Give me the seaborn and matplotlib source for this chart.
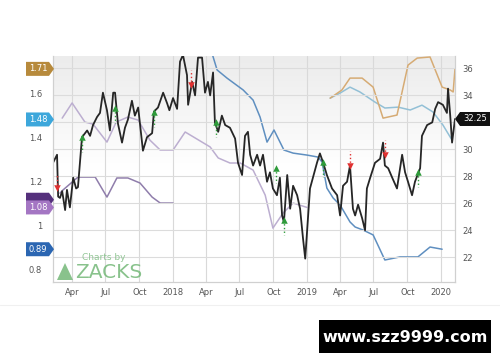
import numpy as np
import pandas as pd
import matplotlib
matplotlib.use("Agg")
import matplotlib.pyplot as plt
import matplotlib.dates as mdates
import matplotlib.transforms as mtransforms
from matplotlib.patches import Polygon, Rectangle
import seaborn as sns

# ---- price (right axis) ----
price_dates = [
    "2017-02-08", "2017-02-19", "2017-02-22", "2017-02-27", "2017-03-05", "2017-03-13", "2017-03-18",
    "2017-03-26", "2017-04-04", "2017-04-12", "2017-04-17", "2017-04-28", "2017-05-12", "2017-05-20",
    "2017-05-28", "2017-06-08", "2017-06-16", "2017-06-24", "2017-07-05", "2017-07-13", "2017-07-22",
    "2017-07-27", "2017-08-04", "2017-08-15", "2017-08-23", "2017-08-31", "2017-09-11", "2017-09-19",
    "2017-09-28", "2017-10-11", "2017-10-22", "2017-11-05", "2017-11-10", "2017-11-21", "2017-12-05",
    "2017-12-16", "2017-12-22", "2018-01-01", "2018-01-12", "2018-01-20", "2018-01-28", "2018-02-08",
    "2018-02-11", "2018-02-22", "2018-03-02", "2018-03-10", "2018-03-21", "2018-03-29", "2018-04-06",
    "2018-04-12", "2018-04-20", "2018-04-25", "2018-05-04", "2018-05-14", "2018-05-23", "2018-06-05",
    "2018-06-19", "2018-06-27", "2018-07-08", "2018-07-16", "2018-07-24", "2018-07-30", "2018-08-07",
    "2018-08-18", "2018-08-26", "2018-09-03", "2018-09-14", "2018-09-22", "2018-09-30", "2018-10-11",
    "2018-10-19", "2018-10-25", "2018-10-30", "2018-11-08", "2018-11-16", "2018-11-24", "2018-12-05",
    "2018-12-13", "2018-12-21", "2018-12-27", "2019-01-04", "2019-01-09", "2019-01-17", "2019-01-28",
    "2019-02-05", "2019-02-14", "2019-02-24", "2019-03-10", "2019-03-24", "2019-04-01", "2019-04-09",
    "2019-04-20", "2019-04-28", "2019-05-06", "2019-05-12", "2019-05-20", "2019-05-31", "2019-06-08",
    "2019-06-13", "2019-06-22", "2019-07-05", "2019-07-19", "2019-07-27", "2019-08-01", "2019-08-10",
    "2019-08-21", "2019-09-03", "2019-09-17", "2019-09-25", "2019-10-03", "2019-10-14", "2019-10-22",
    "2019-11-05", "2019-11-10", "2019-11-24", "2019-12-08", "2019-12-16", "2019-12-24", "2020-01-06",
    "2020-01-17", "2020-01-20", "2020-01-26", "2020-01-31", "2020-02-08",
]
price_values = [
    29.0, 29.6, 26.5, 26.4, 26.9, 25.5, 27.0,
    25.7, 27.9, 27.1, 27.2, 30.9, 31.4, 31.0,
    31.8, 32.4, 32.7, 34.2, 32.9, 31.4, 34.2,
    34.2, 31.9, 30.5, 31.6, 32.2, 33.6, 32.5,
    33.1, 29.9, 30.9, 31.2, 32.8, 33.1, 34.2,
    33.4, 32.9, 33.8, 33.0, 36.5, 37.0, 35.5,
    33.3, 35.0, 34.0, 36.8, 36.8, 34.2, 35.0,
    34.0, 35.7, 32.0, 31.3, 32.5, 31.8, 31.6,
    30.8, 29.0, 28.1, 31.0, 31.3, 29.6, 28.8,
    29.6, 28.8, 29.6, 27.6, 28.3, 27.1, 26.6,
    27.9, 25.1, 24.6, 28.1, 25.6, 27.3, 26.6,
    25.6, 23.4, 21.9, 25.1, 27.1, 27.9, 29.0,
    29.7, 29.0, 28.1, 27.1, 26.6, 25.1, 27.3,
    27.6, 28.8, 25.6, 25.1, 25.9, 24.9, 24.0,
    27.1, 27.9, 29.0, 29.3, 30.5, 28.8, 28.6,
    27.9, 27.1, 29.6, 28.3, 27.6, 26.6, 27.6,
    28.6, 31.0, 31.8, 32.0, 33.0, 33.5, 33.3,
    32.7, 34.5, 32.5, 30.5, 32.25,
]

# ---- consensus estimate lines (left axis) ----
cur_dates = ["2017-03-05", "2017-04-01", "2017-05-06", "2017-05-28", "2017-07-05", "2017-07-30",
             "2017-08-31", "2017-09-28", "2017-10-30", "2017-11-27", "2018-01-01", "2018-02-03",
             "2018-03-21", "2018-04-12", "2018-05-04", "2018-06-05", "2018-07-03", "2018-08-07",
             "2018-09-09", "2018-09-30", "2018-10-28", "2018-11-24", "2019-01-01"]
cur_values = [1.486, 1.555, 1.468, 1.459, 1.377, 1.468, 1.491, 1.477, 1.386, 1.341, 1.341, 1.423,
              1.377, 1.355, 1.305, 1.282, 1.282, 1.25, 1.136, 0.986, 1.055, 1.10, 1.08]

nxt_dates = ["2017-02-27", "2017-03-07", "2017-04-17", "2017-06-03", "2017-07-05", "2017-08-01",
             "2017-08-31", "2017-10-03", "2017-11-05", "2017-11-27", "2018-01-01"]
nxt_values = [1.145, 1.159, 1.218, 1.218, 1.127, 1.214, 1.214, 1.191, 1.127, 1.10, 1.10]

blue_dates = ["2018-04-10", "2018-05-01", "2018-05-28", "2018-07-11", "2018-08-07", "2018-08-26",
              "2018-09-14", "2018-10-03", "2018-10-30", "2018-11-24", "2019-01-01", "2019-01-31",
              "2019-02-11", "2019-02-24", "2019-03-13", "2019-04-01", "2019-04-28", "2019-05-12",
              "2019-06-03", "2019-06-30", "2019-08-01", "2019-09-11", "2019-10-30", "2019-12-02",
              "2020-01-04"]
blue_values = [1.82, 1.705, 1.668, 1.614, 1.568, 1.491, 1.377, 1.432, 1.341, 1.327, 1.318, 1.309,
               1.286, 1.168, 1.123, 1.091, 1.014, 0.991, 0.977, 0.955, 0.841, 0.855, 0.855, 0.90,
               0.89]

lblue_dates = ["2019-03-05", "2019-04-01", "2019-04-28", "2019-05-25", "2019-07-05", "2019-08-01",
               "2019-09-06", "2019-10-09", "2019-11-10", "2019-12-10", "2020-01-06", "2020-01-31"]
lblue_values = [1.577, 1.60, 1.627, 1.605, 1.559, 1.532, 1.536, 1.523, 1.545, 1.514, 1.455, 1.386]

gold_dates = ["2019-03-05", "2019-04-06", "2019-04-28", "2019-05-31", "2019-06-30", "2019-07-27",
              "2019-09-03", "2019-10-03", "2019-10-28", "2019-12-02", "2020-01-04", "2020-01-26",
              "2020-02-03", "2020-02-08"]
gold_values = [1.577, 1.614, 1.668, 1.668, 1.627, 1.486, 1.50, 1.727, 1.759, 1.764, 1.627, 1.614,
               1.605, 1.71]

# ---- earnings surprise markers (on price axis) ----
beat_dates = ["2017-04-28", "2017-07-27", "2017-11-10", "2018-04-28", "2018-10-08", "2018-10-30",
              "2019-02-14", "2019-10-30"]
beat_prices = [30.9, 33.05, 32.75, 32.0, 28.6, 24.75, 29.05, 28.3]
miss_dates = ["2017-02-19", "2018-02-18", "2019-04-28", "2019-08-01"]
miss_prices = [27.1, 34.75, 28.8, 29.6]

# ---- tags ----
tag_values = [1.71, 1.48, 1.115, 1.08, 0.89]
tag_labels = ["1.71", "1.48", "", "1.08", "0.89"]
tag_colors = ["#b78a3c", "#3da7db", "#55307c", "#a476c3", "#2b66b2"]
last_price = 32.25

left_ticks = [0.8, 1.0, 1.2, 1.4, 1.6]
left_labels = ["0.8", "1", "1.2", "1.4", "1.6"]
right_ticks = [22, 24, 26, 28, 30, 32, 34, 36]
right_labels = ["22", "24", "26", "28", "30", "", "34", "36"]

sns.set_style("white")
plt.rcParams["font.family"] = ["DejaVu Sans"]

fig = plt.figure(figsize=(5, 3.62), dpi=100)
ax = fig.add_axes([0.106, 0.221, 0.804, 0.624])
ax2 = ax.twinx()

# gradient background
grad = np.linspace(1, 0, 100).reshape(-1, 1)
ax.imshow(grad, extent=[0, 1, 0, 1], transform=ax.transAxes, aspect="auto",
          cmap=matplotlib.colors.LinearSegmentedColormap.from_list("g", ["#ffffff", "#ffffff", "#ececec"]),
          zorder=-5)

def to_df(d, v):
    return pd.DataFrame({"date": pd.to_datetime(d), "v": v})

sns.lineplot(data=to_df(cur_dates, cur_values), x="date", y="v", ax=ax, color="#bcaed0", lw=1.1)
sns.lineplot(data=to_df(nxt_dates, nxt_values), x="date", y="v", ax=ax, color="#8f7dab", lw=1.1)
sns.lineplot(data=to_df(blue_dates, blue_values), x="date", y="v", ax=ax, color="#5f8fc0", lw=1.1)
sns.lineplot(data=to_df(lblue_dates, lblue_values), x="date", y="v", ax=ax, color="#93c0d6", lw=1.1)
sns.lineplot(data=to_df(gold_dates, gold_values), x="date", y="v", ax=ax, color="#d6ab74", lw=1.1)

# price
sns.lineplot(data=to_df(price_dates, price_values), x="date", y="v", ax=ax2, color="#262626", lw=1.3)

# surprise markers
bd = pd.to_datetime(beat_dates)
md = pd.to_datetime(miss_dates)
ax2.vlines(bd, np.array(beat_prices), np.array(beat_prices) - 1.1, colors="#2e9b3a", lw=1, linestyles=":")
ax2.scatter(bd, beat_prices, marker="^", s=22, color="#2e9b3a", zorder=5, linewidths=0)
ax2.vlines(md, np.array(miss_prices), np.array(miss_prices) + 1.1, colors="#e03030", lw=1, linestyles=":")
ax2.scatter(md, miss_prices, marker="v", s=22, color="#e03030", zorder=5, linewidths=0)

xmin, xmax = pd.Timestamp("2017-02-08"), pd.Timestamp("2020-02-08")
ax.set_xlim(xmin, xmax)
ax.set_ylim(0.741, 1.768)
ax2.set_ylim(20.17, 36.91)

ax.set_yticks(left_ticks)
ax.set_yticklabels(left_labels)
ax2.set_yticks(right_ticks)
ax2.set_yticklabels(right_labels)
ax.set_xlabel("")
ax.set_ylabel("")
ax2.set_ylabel("")

ax.xaxis.set_major_locator(mdates.MonthLocator(bymonth=[1, 4, 7, 10]))
ax.xaxis.set_major_formatter(mdates.DateFormatter("%b"))
fig.canvas.draw()
labs = []
for t in ax.get_xticks():
    d = mdates.num2date(t)
    labs.append(str(d.year) if d.month == 1 else d.strftime("%b"))
ax.set_xticks(ax.get_xticks())
ax.set_xticklabels(labs)

ax.tick_params(axis="x", length=0, pad=4, labelsize=6, labelcolor="#555555")
ax.tick_params(axis="y", length=0, pad=8, labelsize=6, labelcolor="#555555")
ax2.tick_params(axis="y", length=0, pad=5, labelsize=6, labelcolor="#555555")

ax.grid(axis="x", color="#d9d9d9", lw=0.8)
ax2.grid(axis="y", color="#dcdcdc", lw=0.8)
ax2.set_axisbelow(True)
for a in (ax, ax2):
    for s in a.spines.values():
        s.set_color("#d0d0d0")
        s.set_linewidth(0.8)
    a.spines["top"].set_visible(False)

# left value tags
tr = mtransforms.blended_transform_factory(fig.transFigure, ax.transData)
h = 7 / 220.0
x0, x1, x2 = 26 / 500, 49 / 500, 54 / 500
for v, lab, c in zip(tag_values, tag_labels, tag_colors):
    poly = Polygon([[x0, v - h], [x1, v - h], [x2, v], [x1, v + h], [x0, v + h]],
                   closed=True, transform=tr, facecolor=c, edgecolor="none", clip_on=False, zorder=10)
    fig.patches.append(poly)
    if lab:
        fig.text(38 / 500, v, lab, transform=tr, color="white", fontsize=6, ha="center", va="center",
                 zorder=11)

# last price tag
tr2 = mtransforms.blended_transform_factory(fig.transFigure, ax2.transData)
hp = 7 / 13.5
px0, px1, px2 = 455 / 500, 460 / 500, 490 / 500
poly = Polygon([[px0, last_price], [px1, last_price - hp], [px2, last_price - hp],
                [px2, last_price + hp], [px1, last_price + hp]],
               closed=True, transform=tr2, facecolor="#111111", edgecolor="none", clip_on=False, zorder=10)
fig.patches.append(poly)
fig.text(475 / 500, last_price, f"{last_price:.2f}", transform=tr2, color="white", fontsize=6,
         ha="center", va="center", zorder=11)

# Zacks logo
fig.text(82 / 500, 1 - 258 / 362, "Charts by", color="#86c08a", fontsize=6.5, va="center", alpha=0.9)
fig.text(75 / 500, 1 - 272 / 362, "ZACKS", color="#74b878", fontsize=14.5, va="center", alpha=0.85)
logo = Polygon([[57 / 500, 1 - 280 / 362], [73 / 500, 1 - 280 / 362], [65 / 500, 1 - 263 / 362]],
               closed=True, transform=fig.transFigure, facecolor="#74b878", alpha=0.85, edgecolor="none")
fig.patches.append(logo)

# separator and watermark
fig.add_artist(plt.Line2D([0, 1], [1 - 305 / 362, 1 - 305 / 362], color="#f0f0f0", lw=0.8))
fig.patches.append(Rectangle((319 / 500, 1 - 353 / 362), 172 / 500, 33 / 362,
                             transform=fig.transFigure, facecolor="black", edgecolor="none"))
fig.text(405 / 500, 1 - 337 / 362, "www.szz9999.com", color="white", fontsize=11.5,
         fontweight="bold", ha="center", va="center")

fig.savefig("out.png", dpi=100)
